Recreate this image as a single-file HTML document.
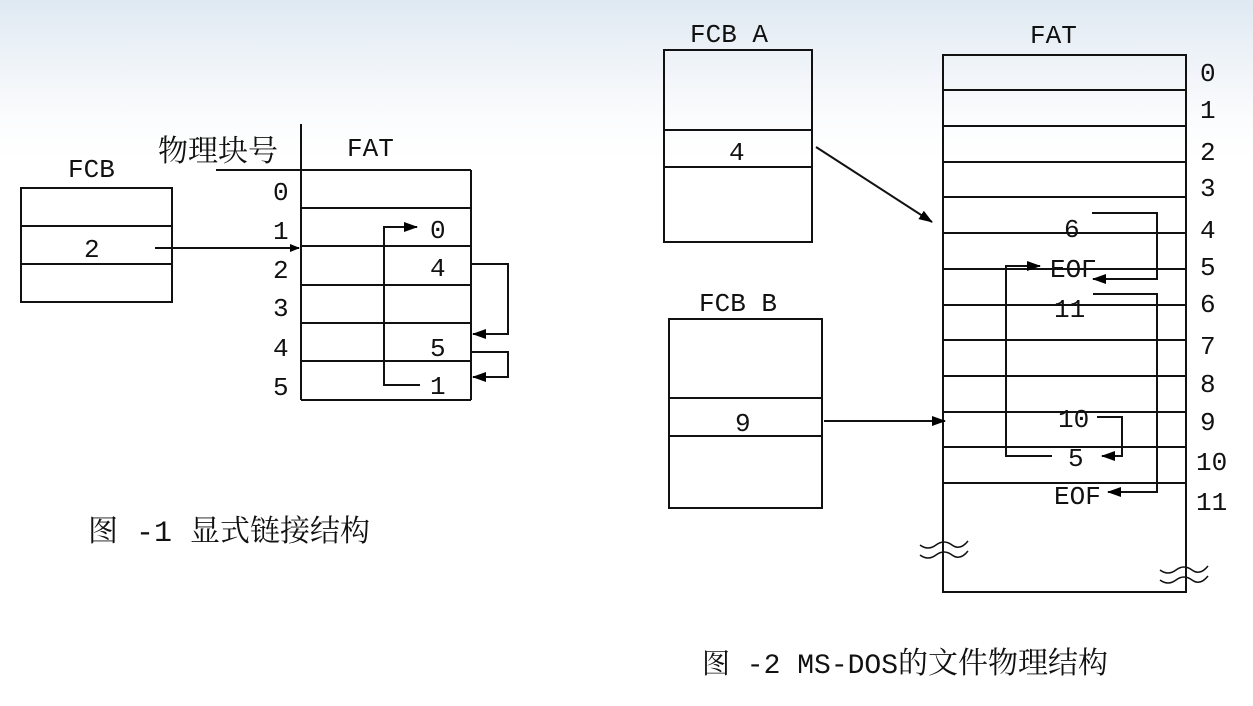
<!DOCTYPE html>
<html><head><meta charset="utf-8"><style>
html,body{margin:0;padding:0;}
body{width:1253px;height:706px;overflow:hidden;background:linear-gradient(180deg,#dfe9f2 0px,#eef3f8 60px,#fbfcfd 120px,#fff 160px);}
svg{position:absolute;left:0;top:0;}
text{font-family:"Liberation Mono","Noto Serif CJK SC",monospace;font-size:26px;fill:#111;}
.c{font-family:"Liberation Mono","Noto Serif CJK SC",serif;font-size:30px;}
</style></head><body>
<svg width="1253" height="706" viewBox="0 0 1253 706">
<defs>
<marker id="a" markerWidth="10" markerHeight="8" refX="9" refY="4" orient="auto" markerUnits="userSpaceOnUse"><path d="M0,0 L10,4 L0,8 z" fill="#000"/></marker>
<marker id="b" markerWidth="14" markerHeight="10" refX="13" refY="5" orient="auto" markerUnits="userSpaceOnUse"><path d="M0,0 L14,5 L0,10 z" fill="#000"/></marker>
</defs>
<g stroke="#111" stroke-width="2" fill="none">
<rect x="21" y="188" width="151" height="114"/>
<line x1="21" y1="226" x2="172" y2="226"/><line x1="21" y1="264" x2="172" y2="264"/>
<line x1="301" y1="124" x2="301" y2="400"/>
<line x1="216" y1="170" x2="471" y2="170"/>
<line x1="471" y1="170" x2="471" y2="400"/>
<line x1="301" y1="400" x2="471" y2="400"/>
<line x1="301" y1="208" x2="471" y2="208"/><line x1="301" y1="246" x2="471" y2="246"/>
<line x1="301" y1="285" x2="471" y2="285"/><line x1="301" y1="323" x2="471" y2="323"/>
<line x1="301" y1="361" x2="471" y2="361"/>
<path d="M155 248 H299" marker-end="url(#a)"/>
<path d="M471 264 H508 V334 H473" marker-end="url(#b)"/>
<path d="M471 352 H508 V377 H473" marker-end="url(#b)"/>
<path d="M420 385 H384 V227 H417" marker-end="url(#b)"/>
<rect x="664" y="50" width="148" height="192"/>
<line x1="664" y1="130" x2="812" y2="130"/><line x1="664" y1="167" x2="812" y2="167"/>
<rect x="669" y="319" width="153" height="189"/>
<line x1="669" y1="398" x2="822" y2="398"/><line x1="669" y1="436" x2="822" y2="436"/>
<rect x="943" y="55" width="243" height="537"/>
<line x1="943" y1="90" x2="1186" y2="90"/><line x1="943" y1="126" x2="1186" y2="126"/>
<line x1="943" y1="162" x2="1186" y2="162"/><line x1="943" y1="197" x2="1186" y2="197"/>
<line x1="943" y1="233" x2="1186" y2="233"/><line x1="943" y1="269" x2="1186" y2="269"/>
<line x1="943" y1="305" x2="1186" y2="305"/><line x1="943" y1="340" x2="1186" y2="340"/>
<line x1="943" y1="376" x2="1186" y2="376"/><line x1="943" y1="412" x2="1186" y2="412"/>
<line x1="943" y1="447" x2="1186" y2="447"/><line x1="943" y1="483" x2="1186" y2="483"/>
<path d="M816 147 L932 222" marker-end="url(#b)"/>
<path d="M824 421 H945" marker-end="url(#b)"/>
<path d="M1092 213 H1157 V279 H1093" marker-end="url(#b)"/>
<path d="M1093 294 H1157 V492 H1108" marker-end="url(#b)"/>
<path d="M1097 417 H1122 V456 H1102" marker-end="url(#b)"/>
<path d="M1052 456 H1006 V266 H1040" marker-end="url(#b)"/>
<path d="M920 545 q8 6 16 0 t16 0 t16 -4" stroke-width="1.5"/>
<path d="M920 555 q8 6 16 0 t16 0 t16 -4" stroke-width="1.5"/>
<path d="M1160 570 q8 6 16 0 t16 0 t16 -4" stroke-width="1.5"/>
<path d="M1160 580 q8 6 16 0 t16 0 t16 -4" stroke-width="1.5"/>
</g>
<g>
<text x="68" y="177">FCB</text>
<text x="84" y="257">2</text>
<text x="158" y="161" class="c" font-size="31">物理块号</text>
<text x="347" y="156">FAT</text>
<text x="273" y="200">0</text><text x="273" y="239">1</text><text x="273" y="278">2</text>
<text x="273" y="316">3</text><text x="273" y="356">4</text><text x="273" y="395">5</text>
<text x="430" y="238">0</text><text x="430" y="276">4</text><text x="430" y="356">5</text><text x="430" y="394">1</text>
<text x="88" y="541" class="c" font-size="31">图 -1 显式链接结构</text>
<text x="690" y="42">FCB A</text>
<text x="729" y="160">4</text>
<text x="699" y="311">FCB B</text>
<text x="735" y="431">9</text>
<text x="1030" y="43">FAT</text>
<text x="1064" y="237">6</text>
<text x="1050" y="277">EOF</text>
<text x="1054" y="317">11</text>
<text x="1058" y="427">10</text>
<text x="1068" y="466">5</text>
<text x="1054" y="504">EOF</text>
<g>
<text x="1200" y="81">0</text><text x="1200" y="118">1</text><text x="1200" y="160">2</text>
<text x="1200" y="196">3</text><text x="1200" y="238">4</text><text x="1200" y="275">5</text>
<text x="1200" y="312">6</text><text x="1200" y="354">7</text><text x="1200" y="392">8</text>
<text x="1200" y="430">9</text><text x="1196" y="470">10</text><text x="1196" y="510">11</text>
</g>
<text x="702" y="673" class="c" font-size="31"><tspan font-size="28">图 -2 MS-DOS</tspan>的文件物理结构</text>
</g>
</svg>
</body></html>
